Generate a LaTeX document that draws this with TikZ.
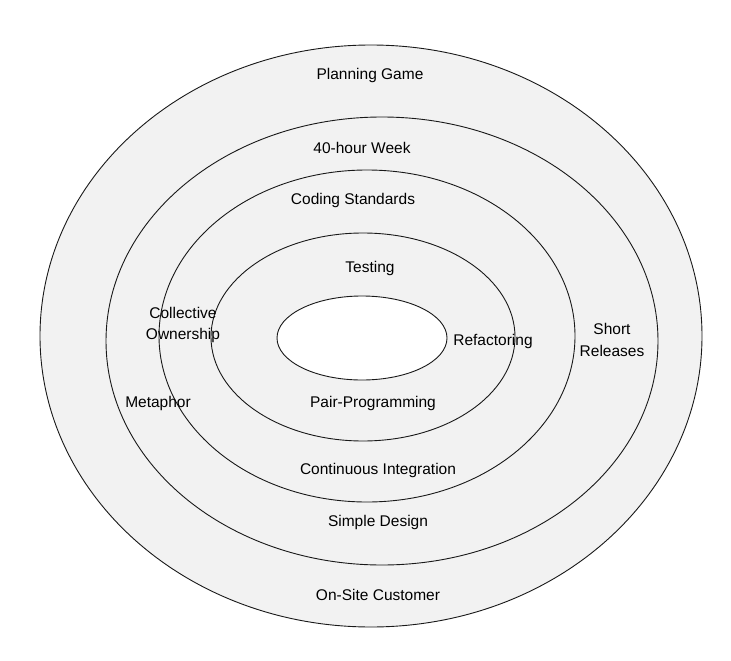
\documentclass[tikz,border=0pt]{standalone}
\usepackage{fontspec}
\setmainfont{Liberation Sans}
\begin{document}
\begin{tikzpicture}[x=1pt,y=-1pt,
  ring/.style={draw=black!90,fill=black!5,line width=0.9pt},
  every node/.style={font=\fontsize{15.5}{21.5}\selectfont,text=black,align=center}]
  \useasboundingbox (0,0) rectangle (731,661);
  % rings, outside in
  \draw[ring] (371,336) ellipse [x radius=331pt,y radius=291pt];
  \draw[ring] (382,341) ellipse [x radius=276pt,y radius=224pt];
  \draw[ring] (367,336) ellipse [x radius=208pt,y radius=166pt];
  \draw[ring] (363,337) ellipse [x radius=152pt,y radius=104pt];
  \draw[ring,fill=white] (362,338) ellipse [x radius=85pt,y radius=42pt];
  % practices
  \node (planning) at (370,75) {Planning Game};
  \node (week) at (362,148) {40-hour Week};
  \node (coding) at (353,200) {Coding Standards};
  \node (testing) at (370,268) {Testing};
  \node (ownership) at (183,325) {Collective\\Ownership};
  \node (refactoring) at (493,341) {Refactoring};
  \node (releases) at (612,340) {Short\\Releases};
  \node (metaphor) at (158,403) {Metaphor};
  \node (pairing) at (373,403) {Pair-Programming};
  \node (integration) at (378,470) {Continuous Integration};
  \node (design) at (378,522) {Simple Design};
  \node (customer) at (378,595) {On-Site Customer};
\end{tikzpicture}
\end{document}
